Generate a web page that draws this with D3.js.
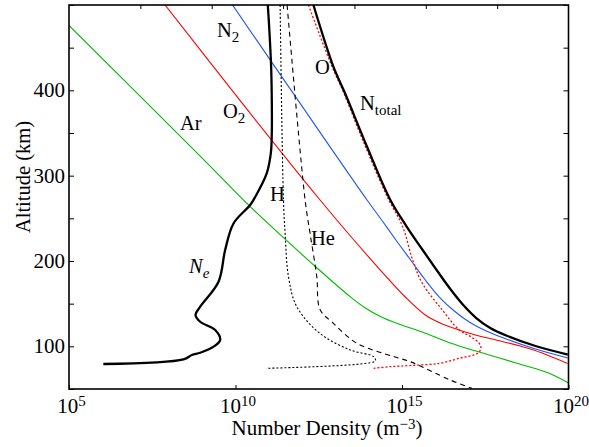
<!DOCTYPE html>
<html>
<head>
<meta charset="utf-8">
<script src="https://cdn.jsdelivr.net/npm/d3@7"></script>
<style>
  html, body { margin: 0; padding: 0; background: #fff; }
  svg { display: block; }
  text { font-family: "Liberation Serif", "DejaVu Serif", serif; fill: #000; }
</style>
</head>
<body>
<svg id="chart" width="589" height="447"></svg>
<script>
// Atmospheric species number densities vs altitude.
// Each profile is a list of [log10 density (m^-3), altitude (km)].
const arProfile = [[5.0, 476], [8.94, 323], [10.38, 266], [11.45, 227], [12.3, 197], [13.45, 158],
  [13.9, 144.9], [14.35, 134.9], [14.86, 126.7], [15.61, 116.8], [16.45, 103.9], [17.32, 93.3],
  [18.53, 79.3], [19.4, 68.7], [20.0, 57]];
const o2Profile = [[7.885, 500], [10.2, 385], [12.54, 271.5], [13.45, 229.3], [14.35, 189.4],
  [15.1, 157.8], [15.7, 136.7], [16.21, 126.2], [16.63, 120.3], [17.2, 113.3], [17.83, 107.4],
  [18.86, 96.8], [19.97, 80]];
const n2Profile = [[9.91, 500], [11.9, 387], [13.95, 271.5], [14.41, 246.9], [14.86, 222.3], [15.28, 200],
  [15.7, 177.7], [16.12, 157.8], [16.57, 141.4], [17.02, 128.5], [17.53, 118], [18.13, 108.6],
  [19.01, 96.8], [19.98, 86.3]];
const oProfile = [[12.19, 500], [12.9, 427.7], [13.24, 398], [13.87, 337], [14.56, 275], [15.02, 240.2],
  [15.32, 201.2], [15.61, 173.9], [16.21, 142.6], [16.72, 119.1], [17.07, 111.3], [17.32, 103.5],
  [17.37, 97.7], [17.27, 91.8], [16.75, 86.3], [16.12, 80.1], [15.25, 77.5], [14.62, 76.1], [14.15, 74.2]];
const heProfile = [[11.55, 500], [12.09, 271.5], [12.24, 232], [12.44, 182], [12.54, 143], [12.94, 127],
  [13.65, 103.5], [14.75, 88], [15.25, 82], [16.45, 60.5], [17.1, 50.8]];
const hProfile = [[11.34, 500], [11.44, 271.5], [11.49, 232], [11.59, 182], [11.84, 146.5], [12.54, 115],
  [13.45, 95.7], [14.15, 87.8], [14.2, 83], [13.75, 79.3], [10.92, 74.2]];
const neProfile = [[6.03, 79.3], [8.44, 84.8], [8.69, 89.8], [8.94, 92.5], [9.34, 99.6], [9.54, 107.4],
  [9.39, 119.1], [8.94, 128.8], [8.8, 136.7], [8.94, 146.4], [9.49, 175.7], [9.69, 213], [9.94, 244],
  [10.44, 265.6], [10.59, 275], [10.94, 303], [11.06, 326], [11.09, 350], [11.09, 389], [11.07, 428],
  [11.01, 475], [10.97, 500]];
const totalProfile = [[12.34, 500], [12.94, 427.7], [13.29, 396.5], [13.95, 333.9], [14.65, 271.5],
  [15.13, 241], [15.62, 212.9], [16.06, 188.3], [16.45, 167.2], [16.84, 148.4], [17.23, 133.2],
  [17.65, 121.5], [18.13, 112.7], [19.01, 100.4], [19.98, 90.4]];

// Axis ticks
const xTickExponents = [5, 10, 15, 20];
const yMajorTicks = [100, 200, 300, 400];
const yAllTicks = [50, 100, 150, 200, 250, 300, 350, 400, 450, 500];

const svg = d3.select("#chart");
const pLeft = 69, pRight = 568.5, pTop = 5, pBottom = 389;

const x = d3.scaleLog().domain([1e5, 1e20]).range([pLeft, pRight]);
const y = d3.scaleLinear().domain([50, 500]).range([pBottom, pTop]);

svg.append("clipPath").attr("id", "plot-clip")
  .append("rect").attr("x", pLeft).attr("y", pTop)
  .attr("width", pRight - pLeft).attr("height", pBottom - pTop);

const line = d3.line()
  .x(d => x(Math.pow(10, d[0])))
  .y(d => y(d[1]))
  .curve(d3.curveCatmullRom.alpha(0.5));

const series = [
  { data: arProfile, stroke: "#00bb00", width: 1.1, dash: null },
  { data: o2Profile, stroke: "#ff0000", width: 1.1, dash: null },
  { data: n2Profile, stroke: "#1f55f0", width: 1.1, dash: null },
  { data: heProfile, stroke: "#000", width: 1.1, dash: "5,4" },
  { data: hProfile, stroke: "#000", width: 1.1, dash: "2,2" },
  { data: oProfile, stroke: "#ff0000", width: 1.3, dash: "2,2" },
  { data: neProfile, stroke: "#000", width: 2.3, dash: null },
  { data: totalProfile, stroke: "#000", width: 2.3, dash: null }
];

const plot = svg.append("g").attr("clip-path", "url(#plot-clip)");
plot.selectAll("path.profile").data(series).join("path")
  .attr("class", "profile")
  .attr("d", s => line(s.data))
  .attr("fill", "none")
  .attr("stroke", s => s.stroke)
  .attr("stroke-width", s => s.width)
  .attr("stroke-dasharray", s => s.dash)
  .attr("stroke-linejoin", "round");

// Axes with inward ticks
const axisBottom = d3.axisBottom(x).tickValues(xTickExponents.map(e => Math.pow(10, e)))
  .tickSizeInner(-4).tickSizeOuter(0).tickFormat("");
const axisTop = d3.axisTop(d3.scaleLinear().domain([0, 7]).range([pLeft, pRight]))
  .tickValues(d3.range(1, 7)).tickSizeInner(-4).tickSizeOuter(0).tickFormat("");
const axisLeft = d3.axisLeft(y).tickValues(yAllTicks).tickSizeInner(-5).tickSizeOuter(0).tickFormat("");
const axisRight = d3.axisRight(y).tickValues(yAllTicks).tickSizeInner(-5).tickSizeOuter(0).tickFormat("");

function styleAxis(g) {
  g.select(".domain").remove();
  g.selectAll(".tick line").attr("stroke", "#000").attr("stroke-width", 1);
}
svg.append("g").attr("transform", `translate(0,${pBottom})`).call(axisBottom).call(styleAxis);
svg.append("g").attr("transform", `translate(0,${pTop})`).call(axisTop).call(styleAxis);
svg.append("g").attr("transform", `translate(${pLeft},0)`).call(axisLeft).call(styleAxis);
svg.append("g").attr("transform", `translate(${pRight},0)`).call(axisRight).call(styleAxis);

// Frame
svg.append("rect").attr("x", pLeft).attr("y", pTop)
  .attr("width", pRight - pLeft).attr("height", pBottom - pTop)
  .attr("fill", "none").attr("stroke", "#000").attr("stroke-width", 1.6);

// Tick labels
const xl = svg.append("g");
xTickExponents.forEach(e => {
  const t = xl.append("text")
    .attr("x", x(Math.pow(10, e)) + 2.5)
    .attr("y", 413).attr("text-anchor", "middle").attr("font-size", 21);
  t.append("tspan").text("10");
  t.append("tspan").attr("dy", -7).attr("font-size", 15).text(e);
});
svg.append("g").selectAll("text").data(yMajorTicks).join("text")
  .attr("x", 65).attr("y", d => y(d) + 7)
  .attr("text-anchor", "end").attr("font-size", 21)
  .text(d => d);

// Axis titles
const xt = svg.append("text").attr("x", 327).attr("y", 435)
  .attr("text-anchor", "middle").attr("font-size", 21);
xt.append("tspan").text("Number Density (m");
xt.append("tspan").attr("dy", -6).attr("font-size", 15).text("\u22123");
xt.append("tspan").attr("dy", 6).text(")");
svg.append("text").attr("transform", "translate(30,177) rotate(-90)")
  .attr("text-anchor", "middle").attr("font-size", 20.5).text("Altitude (km)");

// Species labels
function label(px, py, main, sub, italic) {
  const t = svg.append("text").attr("x", px).attr("y", py).attr("font-size", 20.5);
  if (italic) t.attr("font-style", "italic");
  t.append("tspan").text(main);
  if (sub) t.append("tspan").attr("dy", 5).attr("font-size", 15).text(sub);
}
label(217, 37, "N", "2");
label(315, 74, "O");
label(360, 110, "N", "total");
label(223, 118, "O", "2");
label(180, 129.5, "Ar");
label(270, 201, "H");
label(311, 245, "He");
label(189, 273, "N", "e", true);
</script>
</body>
</html>
